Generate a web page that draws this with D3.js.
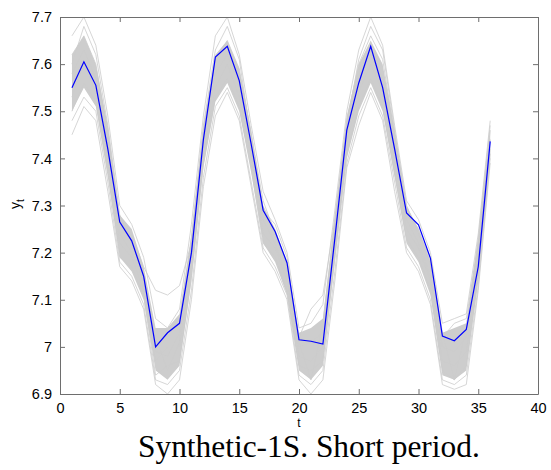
<!DOCTYPE html>
<html lang="en">
<head>
<meta charset="UTF-8">
<title>Synthetic-1S</title>
<script src="https://d3js.org/d3.v7.min.js"></script>
<style>
    body { margin: 0; background: #fff; }
    svg { display: block; }
    .tick text { font-family: "Liberation Sans", Arial, sans-serif; font-size: 14.5px; fill: #000; }
</style>
</head>
<body>
<div id="chart"></div>
<script>
    // time index
    const t = d3.range(1, 37);

    // blue (mean) series
    const meanSeries = [7.55, 7.605, 7.555, 7.42, 7.265, 7.225, 7.15, 7.0, 7.03, 7.05, 7.2, 7.44,
        7.615, 7.638, 7.565, 7.43, 7.29, 7.245, 7.178, 7.015, 7.012, 7.006, 7.23, 7.46,
        7.56, 7.638, 7.55, 7.42, 7.284, 7.259, 7.188, 7.023, 7.013, 7.037, 7.17, 7.436];

    // dense core of the grey ensemble
    const coreHi = [7.62, 7.66, 7.60, 7.47, 7.28, 7.25, 7.17, 7.04, 7.04, 7.07, 7.24, 7.47,
        7.62, 7.65, 7.59, 7.46, 7.30, 7.25, 7.18, 7.03, 7.04, 7.06, 7.28, 7.49,
        7.60, 7.65, 7.60, 7.46, 7.30, 7.25, 7.18, 7.03, 7.04, 7.05, 7.23, 7.46];
    const coreLo = [7.50, 7.55, 7.51, 7.36, 7.19, 7.16, 7.10, 6.95, 6.93, 6.96, 7.14, 7.38,
        7.52, 7.56, 7.50, 7.37, 7.22, 7.18, 7.11, 6.95, 6.93, 6.96, 7.18, 7.40,
        7.50, 7.56, 7.50, 7.36, 7.22, 7.18, 7.11, 6.94, 6.93, 6.95, 7.14, 7.40];

    // individual grey realisations
    const greySeries = [
        [7.66, 7.70, 7.64, 7.49, 7.30, 7.26, 7.19, 7.06, 7.04, 7.08, 7.26, 7.49, 7.66, 7.70, 7.62, 7.47, 7.33, 7.27, 7.20, 7.04, 7.05, 7.09, 7.29, 7.50, 7.63, 7.70, 7.64, 7.47, 7.31, 7.27, 7.20, 7.05, 7.06, 7.07, 7.24, 7.48],
        [7.45, 7.51, 7.48, 7.33, 7.17, 7.14, 7.08, 6.92, 6.90, 6.93, 7.10, 7.34, 7.49, 7.54, 7.48, 7.34, 7.20, 7.16, 7.10, 6.93, 6.90, 6.93, 7.14, 7.38, 7.47, 7.54, 7.48, 7.33, 7.20, 7.16, 7.09, 6.92, 6.91, 6.92, 7.12, 7.39],
        [7.62, 7.66, 7.60, 7.45, 7.26, 7.24, 7.17, 7.12, 7.11, 7.13, 7.22, 7.45, 7.61, 7.65, 7.59, 7.45, 7.31, 7.24, 7.17, 7.02, 7.08, 7.11, 7.27, 7.48, 7.60, 7.66, 7.61, 7.45, 7.29, 7.25, 7.18, 7.02, 7.05, 7.06, 7.22, 7.46],
        [7.50, 7.56, 7.52, 7.38, 7.19, 7.17, 7.11, 6.94, 6.96, 6.97, 7.15, 7.39, 7.53, 7.57, 7.51, 7.38, 7.22, 7.19, 7.12, 6.96, 6.95, 6.97, 7.19, 7.41, 7.51, 7.57, 7.51, 7.37, 7.23, 7.19, 7.12, 6.95, 6.93, 6.96, 7.15, 7.41],
        [7.58, 7.63, 7.57, 7.43, 7.24, 7.20, 7.14, 6.99, 6.98, 7.03, 7.20, 7.43, 7.58, 7.62, 7.56, 7.42, 7.27, 7.22, 7.15, 7.00, 7.01, 7.03, 7.24, 7.45, 7.57, 7.62, 7.57, 7.42, 7.27, 7.22, 7.15, 7.00, 6.99, 7.02, 7.20, 7.44],
        [7.53, 7.60, 7.54, 7.40, 7.22, 7.19, 7.12, 6.97, 7.00, 7.00, 7.17, 7.41, 7.55, 7.60, 7.53, 7.40, 7.24, 7.21, 7.14, 6.98, 6.97, 7.00, 7.21, 7.43, 7.54, 7.60, 7.54, 7.39, 7.25, 7.21, 7.14, 6.97, 6.96, 6.99, 7.17, 7.42],
        [7.60, 7.68, 7.62, 7.47, 7.28, 7.22, 7.16, 7.02, 6.95, 7.01, 7.23, 7.47, 7.63, 7.68, 7.61, 7.44, 7.29, 7.26, 7.19, 7.01, 6.93, 7.05, 7.26, 7.47, 7.61, 7.68, 7.63, 7.46, 7.30, 7.24, 7.19, 7.03, 6.93, 7.04, 7.23, 7.47],
        [7.48, 7.53, 7.50, 7.35, 7.18, 7.15, 7.09, 6.93, 6.92, 6.95, 7.12, 7.36, 7.51, 7.55, 7.49, 7.35, 7.21, 7.17, 7.11, 6.94, 6.92, 6.95, 7.16, 7.39, 7.49, 7.55, 7.49, 7.35, 7.21, 7.17, 7.10, 6.93, 6.92, 6.94, 7.13, 7.40]
    ];

    const xTicks = [0, 5, 10, 15, 20, 25, 30, 35, 40];
    const yTicks = [6.9, 7, 7.1, 7.2, 7.3, 7.4, 7.5, 7.6, 7.7];

    const W = 551, H = 470;
    const plot = { left: 60, right: 538, top: 17, bottom: 394 };

    const svg = d3.select("#chart").append("svg")
        .attr("width", W)
        .attr("height", H);

    const x = d3.scaleLinear().domain([0, 40]).range([plot.left, plot.right]);
    const y = d3.scaleLinear().domain([6.9, 7.7]).range([plot.bottom, plot.top]);

    svg.append("clipPath").attr("id", "clip")
        .append("rect")
        .attr("x", plot.left).attr("y", plot.top)
        .attr("width", plot.right - plot.left)
        .attr("height", plot.bottom - plot.top);

    const g = svg.append("g").attr("clip-path", "url(#clip)");

    // grey core band
    const band = d3.area()
        .x((d, i) => x(t[i]))
        .y0((d, i) => y(coreLo[i]))
        .y1((d, i) => y(coreHi[i]));

    g.append("path")
        .datum(t)
        .attr("d", band)
        .attr("fill", "#cdcdcd");

    const line = d3.line()
        .x((d, i) => x(t[i]))
        .y(d => y(d));

    g.selectAll(".grey")
        .data(greySeries)
        .enter()
        .append("path")
        .attr("class", "grey")
        .attr("d", line)
        .attr("fill", "none")
        .attr("stroke", "#cccccc")
        .attr("stroke-width", 0.8);

    g.append("path")
        .datum(meanSeries)
        .attr("d", line)
        .attr("fill", "none")
        .attr("stroke", "#0000ff")
        .attr("stroke-width", 1.2);

    // axes (ticks inward, box)
    const axisColor = "#6e6e6e";
    const tickLen = 5;

    const xAxis = svg.append("g")
        .attr("transform", "translate(0," + plot.bottom + ")")
        .call(d3.axisBottom(x).tickValues(xTicks).tickSizeInner(-tickLen).tickSizeOuter(0).tickPadding(9).tickFormat(d3.format("d")));

    const xTop = svg.append("g")
        .attr("transform", "translate(0," + plot.top + ")")
        .call(d3.axisTop(x).tickValues(xTicks).tickSizeInner(-tickLen).tickSizeOuter(0).tickFormat(""));

    const yAxis = svg.append("g")
        .attr("transform", "translate(" + plot.left + ",0)")
        .call(d3.axisLeft(y).tickValues(yTicks).tickSizeInner(-tickLen).tickSizeOuter(0).tickPadding(8).tickFormat(d => d3.format("")(+d.toFixed(1))));

    const yRight = svg.append("g")
        .attr("transform", "translate(" + plot.right + ",0)")
        .call(d3.axisRight(y).tickValues(yTicks).tickSizeInner(-tickLen).tickSizeOuter(0).tickFormat(""));

    [xAxis, xTop, yAxis, yRight].forEach(a => {
        a.selectAll("path").attr("stroke", axisColor);
        a.selectAll("line").attr("stroke", axisColor);
    });

    // axis labels
    svg.append("text")
        .attr("x", x(20))
        .attr("y", 427)
        .attr("text-anchor", "middle")
        .style("font-family", "'Liberation Sans', Arial, sans-serif")
        .style("font-size", "12px")
        .text("t");

    const yl = svg.append("text")
        .attr("transform", "translate(20,204) rotate(-90)")
        .attr("text-anchor", "middle")
        .style("font-family", "'Liberation Sans', Arial, sans-serif")
        .style("font-size", "14px");
    yl.append("tspan").text("y");
    yl.append("tspan").attr("dy", 4).style("font-size", "10px").text("t");

    // caption
    const cap = svg.append("text")
        .attr("x", 138)
        .attr("y", 457)
        .style("font-family", "'Liberation Serif', 'DejaVu Serif', serif")
        .style("font-size", "30px")
        .text("Synthetic-1S. Short period.");
    const capW = cap.node().getComputedTextLength();
    cap.style("font-size", (30 * 342 / capW) + "px");
</script>
</body>
</html>
